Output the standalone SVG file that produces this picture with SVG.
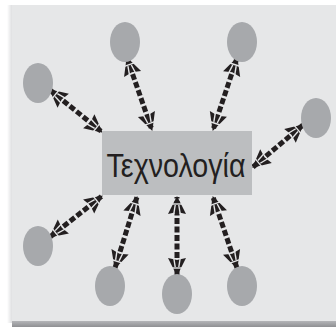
<svg xmlns="http://www.w3.org/2000/svg" width="336" height="327" viewBox="0 0 336 327">
  <defs>
    <linearGradient id="lshadow" x1="0" y1="0" x2="1" y2="0">
      <stop offset="0" stop-color="#ffffff"/>
      <stop offset="1" stop-color="#d8d9db"/>
    </linearGradient>
    <linearGradient id="bshadow" x1="0" y1="0" x2="0" y2="1">
      <stop offset="0" stop-color="#b4b5b8"/>
      <stop offset="1" stop-color="#8f9093"/>
    </linearGradient>
    <marker id="head" markerUnits="userSpaceOnUse" markerWidth="24" markerHeight="24" viewBox="-20 -12 22 24" refX="0" refY="0" orient="auto-start-reverse">
      <polygon points="1,0 -17,-9 -15,0 -17,9" fill="#231f20"/>
      <g stroke="#e6e7e8" stroke-width="1.4" fill="none">
        <line x1="-7" y1="-6" x2="-7" y2="6"/>
        <line x1="-17" y1="-3.2" x2="-8" y2="-1.8"/>
        <line x1="-17" y1="3.2" x2="-8" y2="1.8"/>
      </g>
    </marker>
    <style>
      .conn { stroke: #231f20; stroke-width: 5; stroke-dasharray: 6 2.5; fill: none; marker-start: url(#head); marker-end: url(#head); }
      .circ { fill: #a7a9ac; }
      .box { fill: #bcbec0; }
      .lbl { font-family: "Liberation Sans", Arial, sans-serif; font-size: 34px; fill: #231f20; }
    </style>
  </defs>
  <rect x="0" y="0" width="336" height="327" fill="#ffffff"/>
  <rect x="7" y="5" width="6" height="318" fill="url(#lshadow)"/>
  <rect x="12" y="5" width="324" height="317" fill="#e6e7e8"/>
  <rect x="12" y="321" width="324" height="6" fill="url(#bshadow)"/>

  <g id="connectors">
    <path class="conn" d="M50,90 L102,132"/>
    <path class="conn" d="M127,58 L152,130"/>
    <path class="conn" d="M237,58 L213,130"/>
    <path class="conn" d="M303,125 L253,167"/>
    <path class="conn" d="M50,237 L102,196"/>
    <path class="conn" d="M115,268 L137,197"/>
    <path class="conn" d="M177,275 L177,197"/>
    <path class="conn" d="M237,268 L213,197"/>
  </g>

  <g id="center">
    <rect class="box" x="102" y="131" width="150" height="64"/>
    <text class="lbl" x="176" y="177" text-anchor="middle" textLength="139" lengthAdjust="spacingAndGlyphs">Τεχνολογία</text>
  </g>

  <g id="n1"><ellipse class="circ" cx="125" cy="42" rx="15" ry="20"/></g>
  <g id="n2"><ellipse class="circ" cx="242" cy="42" rx="15" ry="20"/></g>
  <g id="n3"><ellipse class="circ" cx="38" cy="83" rx="15" ry="20"/></g>
  <g id="n4"><ellipse class="circ" cx="316" cy="118" rx="15" ry="20"/></g>
  <g id="n5"><ellipse class="circ" cx="38" cy="246" rx="15" ry="20"/></g>
  <g id="n6"><ellipse class="circ" cx="110" cy="286" rx="15" ry="20"/></g>
  <g id="n7"><ellipse class="circ" cx="177" cy="294" rx="15" ry="20"/></g>
  <g id="n8"><ellipse class="circ" cx="242" cy="286" rx="15" ry="20"/></g>
</svg>
